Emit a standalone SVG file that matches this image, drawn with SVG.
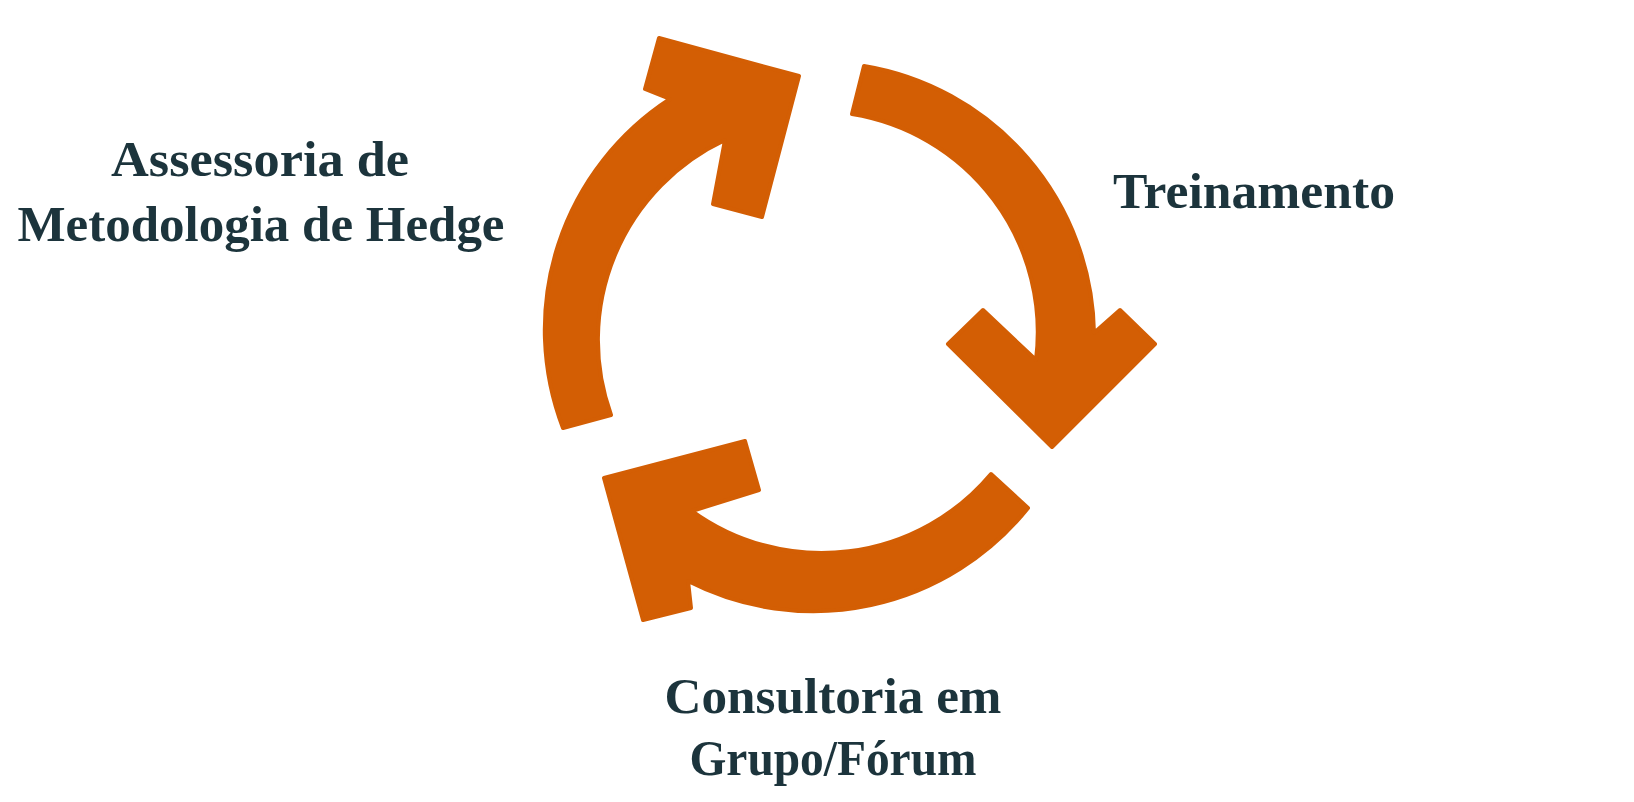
<svg xmlns="http://www.w3.org/2000/svg" width="1634" height="802" viewBox="0 0 1634 802">
<style>
.arrow{fill:#D35E04;stroke:#D35E04;stroke-width:4;stroke-linejoin:round}
.lbl{font-family:"Liberation Serif","Times New Roman",serif;font-weight:bold;font-size:50px;fill:#1C343C;text-anchor:middle}
</style>
<rect width="1634" height="802" fill="#FFFFFF"/>
<g id="connectors">
<path id="arrow-left" class="arrow" d="M 611,415 L 563,428 A 275 275 0 0 1 670,99 L 645,89 L 659,38 L 799,76 L 762,217 L 713,204 L 725,140 A 221 221 0 0 0 611,415 Z"/>
<path id="arrow-right" class="arrow" d="M 864,66 A 275 275 0 0 1 1094,333 L 1120,310 L 1155,344 L 1052,447 L 948,344 L 983,310 L 1036,360 A 221 221 0 0 0 852,114 Z"/>
<path id="arrow-bottom" class="arrow" d="M 991,474 A 221 221 0 0 1 692,511 L 759,490 L 745,441 L 604,478 L 643,620 L 691,608 L 688,581 A 275 275 0 0 0 1028,508 Z"/>
</g>
<g id="node-assessoria">
<text class="lbl" x="260" y="176" textLength="298" lengthAdjust="spacingAndGlyphs">Assessoria de</text>
<text class="lbl" x="261" y="241" textLength="487" lengthAdjust="spacingAndGlyphs">Metodologia de Hedge</text>
</g>
<g id="node-treinamento">
<text class="lbl" x="1254" y="208" textLength="282" lengthAdjust="spacingAndGlyphs">Treinamento</text>
</g>
<g id="node-consultoria">
<text class="lbl" x="833" y="713" textLength="337" lengthAdjust="spacingAndGlyphs">Consultoria em</text>
<text class="lbl" x="833" y="775" textLength="287" lengthAdjust="spacingAndGlyphs">Grupo/Fórum</text>
</g>
</svg>
